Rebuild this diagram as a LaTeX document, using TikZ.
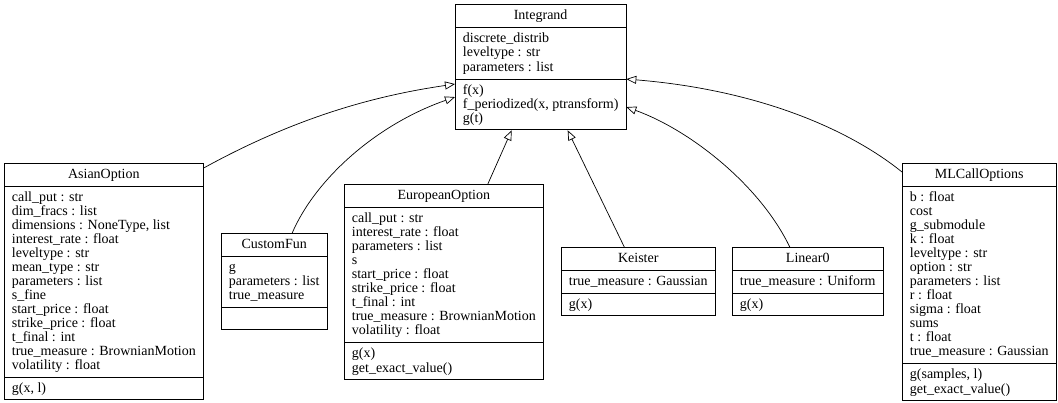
\documentclass[tikz,border=0pt]{standalone}
\usepackage{fontspec}
\setmainfont{Liberation Serif}
\usetikzlibrary{arrows.meta, shapes.multipart}

\newcommand{\umlstrut}{\rule[-3pt]{0pt}{14pt}}

\begin{document}
\begin{tikzpicture}[x=1pt, y=1pt,
        umlclass/.style={rectangle split, rectangle split parts=3, draw, line width=0.8pt,
            anchor=north west, align=left, rectangle split part align={center,left,left},
            inner xsep=7.5pt, inner ysep=4pt, font=\fontsize{14}{14}\selectfont},
        generalization/.style={-{Triangle[open, length=10pt, width=8pt]}, line width=0.7pt}
    ]

    % Frame
    \useasboundingbox (0,0) rectangle (1058,-402);

    % Base class
    \node[umlclass] (integrand) at (455,-4) {\umlstrut Integrand
        \nodepart{second}\umlstrut discrete\_distrib\\leveltype : str\\parameters : list\umlstrut
        \nodepart{third}\umlstrut f(x)\\f\_periodized(x, ptransform)\\g(t)\umlstrut};

    % Derived classes
    \node[umlclass] (asian) at (4,-163) {\umlstrut AsianOption
        \nodepart{second}\umlstrut call\_put : str\\dim\_fracs : list\\dimensions : NoneType, list\\interest\_rate : float\\leveltype : str\\mean\_type : str\\parameters : list\\s\_fine\\start\_price : float\\strike\_price : float\\t\_final : int\\true\_measure : BrownianMotion\\volatility : float\umlstrut
        \nodepart{third}\umlstrut g(x, l)\umlstrut};

    \node[umlclass] (customfun) at (221,-233) {\umlstrut CustomFun
        \nodepart{second}\umlstrut g\\parameters : list\\true\_measure\umlstrut
        \nodepart{third}\umlstrut};

    \node[umlclass] (european) at (344,-184) {\umlstrut EuropeanOption
        \nodepart{second}\umlstrut call\_put : str\\interest\_rate : float\\parameters : list\\s\\start\_price : float\\strike\_price : float\\t\_final : int\\true\_measure : BrownianMotion\\volatility : float\umlstrut
        \nodepart{third}\umlstrut g(x)\\get\_exact\_value()\umlstrut};

    \node[umlclass] (keister) at (561,-247) {\umlstrut Keister
        \nodepart{second}\umlstrut true\_measure : Gaussian\umlstrut
        \nodepart{third}\umlstrut g(x)\umlstrut};

    \node[umlclass] (linear) at (732,-247) {\umlstrut Linear0
        \nodepart{second}\umlstrut true\_measure : Uniform\umlstrut
        \nodepart{third}\umlstrut g(x)\umlstrut};

    \node[umlclass] (mlcall) at (902,-163) {\umlstrut MLCallOptions
        \nodepart{second}\umlstrut b : float\\cost\\g\_submodule\\k : float\\leveltype : str\\option : str\\parameters : list\\r : float\\sigma : float\\sums\\t : float\\true\_measure : Gaussian\umlstrut
        \nodepart{third}\umlstrut g(samples, l)\\get\_exact\_value()\umlstrut};

    % Generalizations
    \draw[generalization] ([yshift=-5pt]asian.north east) .. controls (300,-115) and (380,-95) .. ([yshift=-5pt]integrand.two split west);
    \draw[generalization] ([xshift=18pt]customfun.north) .. controls (315,-180) and (375,-125) .. ([yshift=-18pt]integrand.two split west);
    \draw[generalization] ([xshift=44pt]european.north) -- ([xshift=-29pt]integrand.south);
    \draw[generalization] ([xshift=-14pt]keister.north) -- ([xshift=27pt]integrand.south);
    \draw[generalization] ([xshift=-18pt]linear.north) .. controls (760,-185) and (690,-130) .. ([yshift=-28pt]integrand.two split east);
    \draw[generalization] ([yshift=-9pt]mlcall.north west) .. controls (850,-130) and (760,-90) .. (integrand.two split east);

\end{tikzpicture}
\end{document}
